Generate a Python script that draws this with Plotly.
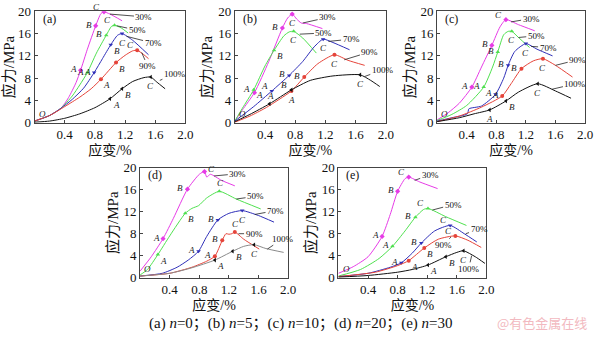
import plotly.graph_objects as go

# ---------------- data ----------------
series_names = ["30%", "50%", "70%", "90%", "100%"]
panel_tags = ["(a)", "(b)", "(c)", "(d)", "(e)"]
x_ticks = [0.4, 0.8, 1.2, 1.6, 2.0]
y_ticks = [0, 4, 8, 12, 16, 20]

# panel (a) n=0
a_x = [
    [0, 0.2, 0.35, 0.45, 0.55, 0.61, 0.7, 0.81, 0.88, 0.92, 1.0, 1.16],
    [0, 0.2, 0.35, 0.5, 0.6, 0.70, 0.82, 0.95, 1.02, 1.06, 1.15, 1.24],
    [0, 0.2, 0.35, 0.5, 0.65, 0.79, 0.9, 1.01, 1.1, 1.16, 1.3, 1.51],
    [0, 0.2, 0.4, 0.6, 0.75, 0.88, 1.08, 1.2, 1.3, 1.36, 1.44, 1.51],
    [0, 0.2, 0.4, 0.6, 0.8, 1.0, 1.16, 1.3, 1.45, 1.54, 1.62, 1.73],
]
a_y = [
    [0.3, 1.3, 2.6, 4.5, 7.2, 9.4, 13.2, 17.4, 19.6, 19.9, 19.5, 18.3],
    [0.3, 1.3, 2.6, 4.8, 6.8, 9.0, 12.5, 15.7, 17.3, 17.5, 17.0, 16.1],
    [0.3, 1.3, 2.6, 4.2, 6.2, 9.0, 11.5, 14.0, 15.7, 16.0, 14.8, 12.2],
    [0.3, 1.3, 2.9, 4.6, 6.1, 7.8, 10.8, 12.1, 12.9, 13.0, 12.3, 11.5],
    [0.1, 0.3, 0.8, 1.6, 2.7, 4.3, 6.1, 7.4, 8.1, 8.2, 7.3, 6.1],
]
a_abc_x = [[0.61, 0.81, 0.92], [0.70, 0.95, 1.06], [0.79, 1.01, 1.16], [0.88, 1.08, 1.36], [1.0, 1.16, 1.54]]
a_abc_y = [[9.4, 17.4, 19.9], [9.0, 15.7, 17.5], [9.0, 14.0, 16.0], [7.8, 10.8, 13.0], [4.3, 6.1, 8.2]]

# panel (b) n=5
b_x = [
    [0, 0.1, 0.26, 0.45, 0.63, 0.7, 0.76, 0.82, 0.88, 0.95, 1.16],
    [0, 0.1, 0.25, 0.4, 0.52, 0.65, 0.72, 0.78, 0.9, 1.08],
    [0, 0.25, 0.49, 0.72, 0.9, 1.05, 1.17, 1.3, 1.52],
    [0, 0.2, 0.4, 0.6, 0.75, 0.92, 1.1, 1.32, 1.5, 1.72],
    [0, 0.2, 0.46, 0.75, 1.0, 1.3, 1.66, 1.8, 1.92],
]
b_y = [
    [0.3, 2.3, 5.4, 11.0, 17.0, 18.8, 19.5, 18.6, 17.9, 17.8, 16.9],
    [0.3, 2.6, 5.9, 10.2, 13.0, 15.6, 16.3, 16.4, 15.2, 12.5],
    [0.3, 2.9, 5.7, 8.5, 11.0, 13.6, 15.0, 14.4, 13.1],
    [0.1, 1.2, 2.6, 4.3, 5.7, 8.2, 10.6, 12.2, 11.2, 10.3],
    [0.2, 1.5, 3.4, 5.9, 7.6, 8.4, 8.6, 7.6, 6.5],
]
b_abc_x = [[0.26, 0.63, 0.76], [0.25, 0.52, 0.78], [0.49, 0.72, 1.17], [0.75, 0.92, 1.32], [0.46, 0.75, 1.66]]
b_abc_y = [[5.4, 17.0, 19.5], [5.9, 13.0, 16.4], [5.7, 8.5, 15.0], [5.7, 8.2, 12.2], [3.4, 5.9, 8.6]]

# panel (c) n=10
c_x = [
    [0, 0.15, 0.3, 0.47, 0.6, 0.74, 0.85, 0.93, 1.1, 1.32],
    [0, 0.2, 0.4, 0.63, 0.75, 0.82, 0.9, 0.96, 1.01, 1.1, 1.25],
    [0, 0.2, 0.41, 0.43, 0.6, 0.79, 0.9, 0.96, 1.05, 1.2, 1.35, 1.56],
    [0, 0.3, 0.6, 0.88, 1.0, 1.14, 1.3, 1.43, 1.6, 1.83],
    [0, 0.3, 0.5, 0.71, 0.93, 1.1, 1.36, 1.6, 1.81],
]
c_y = [
    [0.5, 1.8, 3.5, 6.4, 10.0, 13.9, 17.2, 18.5, 17.6, 16.5],
    [0.4, 1.5, 3.1, 6.4, 10.0, 12.7, 15.8, 16.4, 16.4, 15.3, 13.5],
    [0.3, 0.9, 1.6, 2.5, 3.0, 5.1, 8.0, 10.3, 12.8, 14.2, 13.2, 12.0],
    [0.2, 1.2, 2.8, 4.8, 7.0, 9.7, 11.1, 11.5, 10.3, 8.2],
    [0.2, 0.9, 1.6, 2.3, 3.9, 5.5, 7.0, 5.7, 4.4],
]
c_abc_x = [[0.47, 0.74, 0.93], [0.63, 0.82, 1.01], [0.79, 0.96, 1.2], [0.88, 1.14, 1.43], [0.71, 0.93, 1.36]]
c_abc_y = [[6.4, 13.9, 18.5], [6.4, 12.7, 16.4], [5.1, 10.3, 14.2], [4.8, 9.7, 11.5], [2.3, 3.9, 7.0]]

# panel (d) n=20
d_x = [
    [0, 0.15, 0.31, 0.45, 0.64, 0.8, 0.87, 0.9, 0.95, 1.1, 1.28],
    [0, 0.1, 0.24, 0.4, 0.61, 0.7, 0.79, 0.9, 1.07, 1.3, 1.63],
    [0, 0.3, 0.5, 0.65, 0.79, 0.9, 1.05, 1.2, 1.38, 1.6, 1.81],
    [0, 0.4, 0.7, 0.9, 1.01, 1.11, 1.16, 1.2, 1.24, 1.28, 1.4, 1.61],
    [0, 0.4, 0.7, 1.01, 1.25, 1.4, 1.54, 1.7, 1.94],
]
d_y = [
    [1.2, 3.8, 7.1, 10.8, 16.1, 18.8, 19.3, 18.3, 18.8, 17.7, 16.7],
    [0.5, 1.5, 4.2, 7.6, 11.7, 12.6, 13.1, 14.5, 15.7, 14.3, 12.5],
    [0.3, 0.8, 1.9, 3.2, 4.8, 7.5, 10.5, 11.7, 12.2, 11.3, 10.1],
    [0.3, 0.8, 1.9, 3.0, 3.9, 6.8, 8.0, 7.9, 8.0, 8.3, 7.0, 5.2],
    [0.3, 0.8, 1.8, 3.2, 4.8, 5.7, 6.0, 5.3, 4.6],
]
d_abc_x = [[0.31, 0.64, 0.87], [0.24, 0.61, 1.07], [0.79, 1.05, 1.38], [1.01, 1.11, 1.28], [1.01, 1.25, 1.54]]
d_abc_y = [[7.1, 16.1, 19.3], [4.2, 11.7, 15.7], [4.8, 10.5, 12.2], [3.9, 6.8, 8.3], [3.2, 4.8, 6.0]]

# panel (e) n=30
e_x = [
    [0, 0.2, 0.4, 0.59, 0.7, 0.8, 0.9, 0.95, 1.1, 1.34],
    [0, 0.3, 0.55, 0.73, 0.9, 1.04, 1.15, 1.21, 1.45, 1.73],
    [0, 0.4, 0.7, 0.85, 1.0, 1.12, 1.3, 1.51, 1.7, 1.87],
    [0, 0.5, 0.8, 0.95, 1.16, 1.35, 1.58, 1.75, 1.93],
    [0, 0.4, 0.8, 1.0, 1.21, 1.45, 1.6, 1.69, 1.85, 1.98],
]
e_y = [
    [0.8, 2.0, 3.8, 7.5, 11.5, 15.7, 18.0, 18.3, 17.4, 16.2],
    [0.3, 1.5, 3.5, 5.7, 8.5, 11.0, 12.4, 12.6, 11.1, 9.5],
    [0.2, 0.8, 1.9, 2.7, 4.5, 6.3, 8.5, 9.5, 8.0, 6.5],
    [0.2, 1.0, 2.2, 3.1, 5.4, 7.0, 7.6, 6.8, 5.5],
    [0.1, 0.4, 1.0, 1.5, 2.3, 3.8, 4.6, 4.9, 3.8, 2.6],
]
e_abc_x = [[0.59, 0.8, 0.95], [0.73, 1.04, 1.21], [0.85, 1.12, 1.51], [0.95, 1.16, 1.58], [1.21, 1.45, 1.69]]
e_abc_y = [[7.5, 15.7, 18.3], [5.7, 11.0, 12.6], [2.7, 6.3, 9.5], [3.1, 5.4, 7.6], [2.3, 3.8, 4.9]]

# percent label: (curve point x, y, text x, y)
a_lab = [[1.0, 19.5, 1.45, 19.0], [1.09, 17.4, 1.36, 16.6], [1.22, 15.5, 1.57, 14.3], [1.42, 12.6, 1.5, 10.1], [1.66, 7.6, 1.86, 8.8]]
b_lab = [[0.9, 17.9, 1.23, 18.9], [0.86, 15.9, 1.18, 16.1], [1.24, 14.6, 1.54, 15.0], [1.45, 11.3, 1.79, 12.7], [1.72, 8.3, 1.96, 9.5]]
c_lab = [[1.0, 18.1, 1.27, 18.7], [1.1, 15.3, 1.34, 15.6], [1.27, 13.7, 1.5, 13.5], [1.6, 10.3, 1.9, 11.3], [1.55, 6.0, 1.87, 7.0]]
d_lab = [[1.0, 18.5, 1.32, 18.9], [1.3, 14.3, 1.56, 14.8], [1.55, 11.5, 1.83, 12.2], [1.33, 8.0, 1.54, 8.0], [1.72, 5.2, 1.93, 7.1]]
e_lab = [[1.03, 17.7, 1.24, 18.7], [1.27, 12.3, 1.55, 13.3], [1.72, 8.0, 1.9, 8.8], [1.52, 7.4, 1.42, 5.9], [1.8, 4.0, 1.76, 1.6]]

caption = "(a) <i>n</i>=0；(b) <i>n</i>=5；(c) <i>n</i>=10；(d) <i>n</i>=20；(e) <i>n</i>=30"
watermark = "@有色金属在线"

# ---------------- styles ----------------
colors = ["#e63be6", "#4fe04f", "#2f2fb8", "#e5443a", "#111111"]
markers = ["diamond", "triangle-up", "triangle-down", "circle", "triangle-left"]
serif = "Liberation Serif, Noto Sans CJK SC"

panels = [
    dict(x=a_x, y=a_y, ax=a_abc_x, ay=a_abc_y, lab=a_lab, dom=([35, 188], [4.5, 121]),
         pos=["LLQ", "LLQ", "LRD", "RRQ", "RRD"]),
    dict(x=b_x, y=b_y, ax=b_abc_x, ay=b_abc_y, lab=b_lab, dom=([238, 391], [4.5, 121]),
         pos=["SLD", "LRD", "QLD", "DLD", "UQD"]),
    dict(x=c_x, y=c_y, ax=c_abc_x, ay=c_abc_y, lab=c_lab, dom=([443, 593], [4.5, 121]),
         pos=["LLQ", "LLD", "LLD", "LLD", "DRD"]),
    dict(x=d_x, y=d_y, ax=d_abc_x, ay=d_abc_y, lab=d_lab, dom=([142, 292], [168, 283]),
         pos=["LLP", "RRU", "LLD", "LLU", "RRD"]),
    dict(x=e_x, y=e_y, ax=e_abc_x, ay=e_abc_y, lab=e_lab, dom=([343, 493], [168, 283]),
         pos=["LLQ", "LLQ", "LLQ", "RRQ", "RRD"]),
]
shift = {"L": (-7, 1), "R": (6, -6), "U": (1, 8), "D": (0, -9), "Q": (-7, 5), "P": (7, 3), "S": (5, -2)}

W, H = 600, 345
fig = go.Figure()
annotations = []
layout = {}
for i, p in enumerate(panels):
    k = "" if i == 0 else str(i + 1)
    xref, yref = "x" + k, "y" + k
    (x0, x1), (y0, y1) = p["dom"]
    axis_common = dict(showline=True, mirror=True, linecolor="#444", linewidth=1,
                       ticks="inside", ticklen=3, tickcolor="#444", showgrid=False, zeroline=False,
                       tickfont=dict(family=serif, size=13, color="#111"))
    layout["xaxis" + k] = dict(domain=[x0 / W, x1 / W], range=[0, 2.0], tickvals=x_ticks,
                               ticktext=["%.1f" % v for v in x_ticks], anchor=yref,
                               title=dict(text="应变/%", font=dict(family=serif, size=14, color="#111"), standoff=2),
                               **axis_common)
    layout["yaxis" + k] = dict(domain=[1 - y1 / H, 1 - y0 / H], range=[0, 20], tickvals=y_ticks,
                               anchor=xref,
                               title=dict(text="应力/MPa", font=dict(family=serif, size=15, color="#111"), standoff=1),
                               **axis_common)
    for j in range(5):
        col = "#8a8a8a" if (i == 3 and j == 4) else colors[j]
        fig.add_trace(go.Scatter(x=p["x"][j], y=p["y"][j], mode="lines", xaxis=xref, yaxis=yref,
                                 line=dict(color=col, width=1, shape="spline", smoothing=0.6),
                                 showlegend=False, hoverinfo="skip"))
        fig.add_trace(go.Scatter(x=p["ax"][j], y=p["ay"][j], mode="markers", xaxis=xref, yaxis=yref,
                                 marker=dict(color=col if not (i == 3 and j == 4) else "#111",
                                             symbol=markers[j], size=4),
                                 showlegend=False, hoverinfo="skip"))
        for m, letter in enumerate("ABC"):
            dx, dy = shift[p["pos"][j][m]]
            annotations.append(dict(x=p["ax"][j][m], y=p["ay"][j][m], xref=xref, yref=yref,
                                    text="<i>%s</i>" % letter, showarrow=False, xshift=dx, yshift=dy,
                                    font=dict(family=serif, size=9, color="#222")))
        lx, ly, tx, ty = p["lab"][j]
        annotations.append(dict(x=lx, y=ly, xref=xref, yref=yref, ax=tx, ay=ty, axref=xref, ayref=yref,
                                text=series_names[j], showarrow=True, arrowhead=0, arrowwidth=0.8,
                                arrowcolor="#222", standoff=0, startstandoff=0,
                                font=dict(family=serif, size=9, color="#111")))
    annotations.append(dict(x=0.03, y=1.5, xref=xref, yref=yref, text="<i>O</i>", showarrow=False,
                            xanchor="left", font=dict(family=serif, size=9, color="#222")))
    annotations.append(dict(x=0.08, y=18.6, xref=xref, yref=yref, text=panel_tags[i], showarrow=False,
                            xanchor="left", font=dict(family=serif, size=12, color="#111")))

annotations.append(dict(x=305 / W, y=1 - 331 / H, xref="paper", yref="paper", text=caption,
                        yanchor="middle", showarrow=False, font=dict(family=serif, size=15, color="#111")))
annotations.append(dict(x=597 / W, y=1 - 330 / H, xref="paper", yref="paper", text=watermark,
                        xanchor="right", yanchor="middle", showarrow=False,
                        font=dict(family="Noto Sans CJK SC", size=13, color="#f2b9c0")))

fig.update_layout(width=W, height=H, margin=dict(l=0, r=0, t=0, b=0),
                  paper_bgcolor="white", plot_bgcolor="white", annotations=annotations, **layout)
fig.write_html("out.html")
